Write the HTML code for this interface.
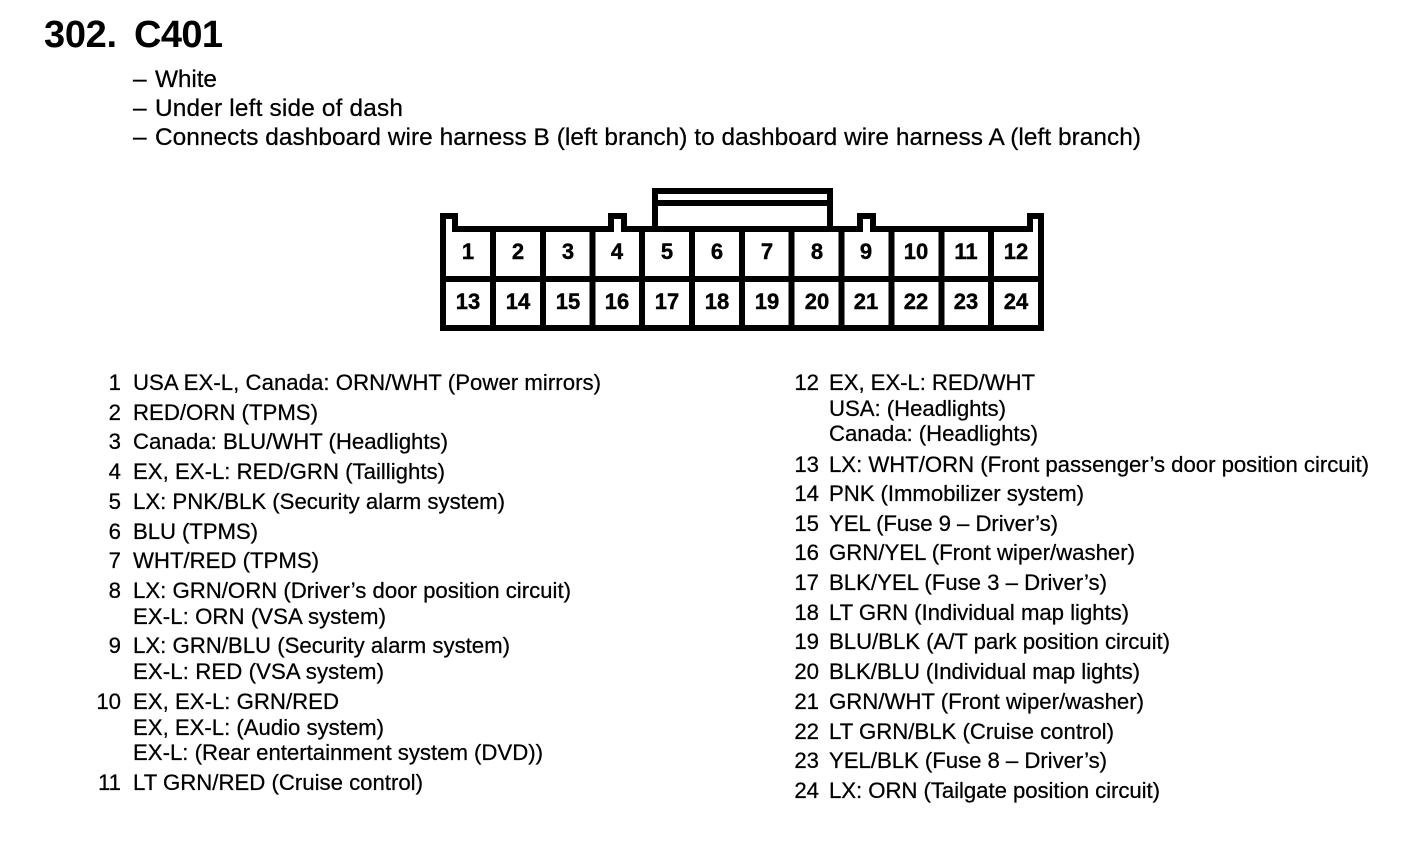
<!DOCTYPE html>
<html><head><meta charset="utf-8"><style>
html,body{margin:0;padding:0;background:#fff}
svg{display:block}
text{font-family:"Liberation Sans",sans-serif;fill:#000}
.s{font-size:24.400px;stroke:#000;stroke-width:.25px}
.b{font-size:22.200px;stroke:#000;stroke-width:.25px}
.n{font-size:22px;font-weight:700;text-anchor:middle;stroke:#000;stroke-width:.4px}
.e{text-anchor:end}
</style></head><body>
<svg width="1408" height="852" viewBox="0 0 1408 852" xmlns="http://www.w3.org/2000/svg">
<rect width="1408" height="852" fill="#fff"/>
<text x="44" y="47" font-size="38" font-weight="700" textLength="73">302.</text>
<text x="134" y="47" font-size="38" font-weight="700" textLength="89">C401</text>
<g class="s">
<text x="133" y="87">–</text><text x="155" y="87" textLength="62">White</text>
<text x="133" y="116">–</text><text x="155" y="116" textLength="248">Under left side of dash</text>
<text x="133" y="145">–</text><text x="155" y="145" textLength="986">Connects dashboard wire harness B (left branch) to dashboard wire harness A (left branch)</text>
</g>
<g fill="none" stroke="#000" stroke-width="6" stroke-linejoin="miter">
<path d="M655 229V191H830V229M655 203H830"/>
<path d="M443 328V216H455V229H611V216H624V229H860V216H873V229H1030V216H1041V328Z"/>
<path d="M443 279H1041"/>
<path d="M493 229V328M543 229V328M592.500 229V328M642 229V328M692 229V328M742 229V328M791.500 229V328M841.500 229V328M891.500 229V328M941.500 229V328M991 229V328"/>
</g>
<g fill="#fff">
<rect x="446" y="219" width="6" height="13"/>
<rect x="614" y="219" width="7" height="11"/>
<rect x="863" y="219" width="7" height="11"/>
<rect x="1033" y="219" width="5" height="13"/>
</g>
<g class="n">
<text x="468" y="259">1</text><text x="518" y="259">2</text><text x="568" y="259">3</text><text x="617" y="259">4</text><text x="667" y="259">5</text><text x="717" y="259">6</text><text x="767" y="259">7</text><text x="817" y="259">8</text><text x="866" y="259">9</text><text x="916" y="259">10</text><text x="966" y="259">11</text><text x="1016" y="259">12</text>
<text x="468" y="309">13</text><text x="518" y="309">14</text><text x="568" y="309">15</text><text x="617" y="309">16</text><text x="667" y="309">17</text><text x="717" y="309">18</text><text x="767" y="309">19</text><text x="817" y="309">20</text><text x="866" y="309">21</text><text x="916" y="309">22</text><text x="966" y="309">23</text><text x="1016" y="309">24</text>
</g>
<g class="b">
<text class="e" x="121" y="390">1</text><text x="133" y="390" textLength="468">USA EX-L, Canada: ORN/WHT (Power mirrors)</text>
<text class="e" x="121" y="420">2</text><text x="133" y="420" textLength="185">RED/ORN (TPMS)</text>
<text class="e" x="121" y="449">3</text><text x="133" y="449" textLength="315">Canada: BLU/WHT (Headlights)</text>
<text class="e" x="121" y="479">4</text><text x="133" y="479" textLength="312">EX, EX-L: RED/GRN (Taillights)</text>
<text class="e" x="121" y="509">5</text><text x="133" y="509" textLength="372">LX: PNK/BLK (Security alarm system)</text>
<text class="e" x="121" y="539">6</text><text x="133" y="539" textLength="125">BLU (TPMS)</text>
<text class="e" x="121" y="568">7</text><text x="133" y="568" textLength="186">WHT/RED (TPMS)</text>
<text class="e" x="121" y="598">8</text><text x="133" y="598" textLength="438">LX: GRN/ORN (Driver’s door position circuit)</text>
<text x="133" y="624" textLength="253">EX-L: ORN (VSA system)</text>
<text class="e" x="121" y="653">9</text><text x="133" y="653" textLength="377">LX: GRN/BLU (Security alarm system)</text>
<text x="133" y="679" textLength="251">EX-L: RED (VSA system)</text>
<text class="e" x="121" y="709">10</text><text x="133" y="709" textLength="206">EX, EX-L: GRN/RED</text>
<text x="133" y="735" textLength="251">EX, EX-L: (Audio system)</text>
<text x="133" y="760" textLength="410">EX-L: (Rear entertainment system (DVD))</text>
<text class="e" x="121" y="790">11</text><text x="133" y="790" textLength="290">LT GRN/RED (Cruise control)</text>
<text class="e" x="819" y="390">12</text><text x="829" y="390" textLength="206">EX, EX-L: RED/WHT</text>
<text x="829" y="416" textLength="177">USA: (Headlights)</text>
<text x="829" y="441" textLength="209">Canada: (Headlights)</text>
<text class="e" x="819" y="472">13</text><text x="829" y="472" textLength="540">LX: WHT/ORN (Front passenger’s door position circuit)</text>
<text class="e" x="819" y="501">14</text><text x="829" y="501" textLength="255">PNK (Immobilizer system)</text>
<text class="e" x="819" y="531">15</text><text x="829" y="531" textLength="229">YEL (Fuse 9 – Driver’s)</text>
<text class="e" x="819" y="560">16</text><text x="829" y="560" textLength="306">GRN/YEL (Front wiper/washer)</text>
<text class="e" x="819" y="590">17</text><text x="829" y="590" textLength="278">BLK/YEL (Fuse 3 – Driver’s)</text>
<text class="e" x="819" y="620">18</text><text x="829" y="620" textLength="300">LT GRN (Individual map lights)</text>
<text class="e" x="819" y="649">19</text><text x="829" y="649" textLength="341">BLU/BLK (A/T park position circuit)</text>
<text class="e" x="819" y="679">20</text><text x="829" y="679" textLength="311">BLK/BLU (Individual map lights)</text>
<text class="e" x="819" y="709">21</text><text x="829" y="709" textLength="315">GRN/WHT (Front wiper/washer)</text>
<text class="e" x="819" y="739">22</text><text x="829" y="739" textLength="285">LT GRN/BLK (Cruise control)</text>
<text class="e" x="819" y="768">23</text><text x="829" y="768" textLength="278">YEL/BLK (Fuse 8 – Driver’s)</text>
<text class="e" x="819" y="798">24</text><text x="829" y="798" textLength="331">LX: ORN (Tailgate position circuit)</text>
</g>
</svg>
</body></html>
